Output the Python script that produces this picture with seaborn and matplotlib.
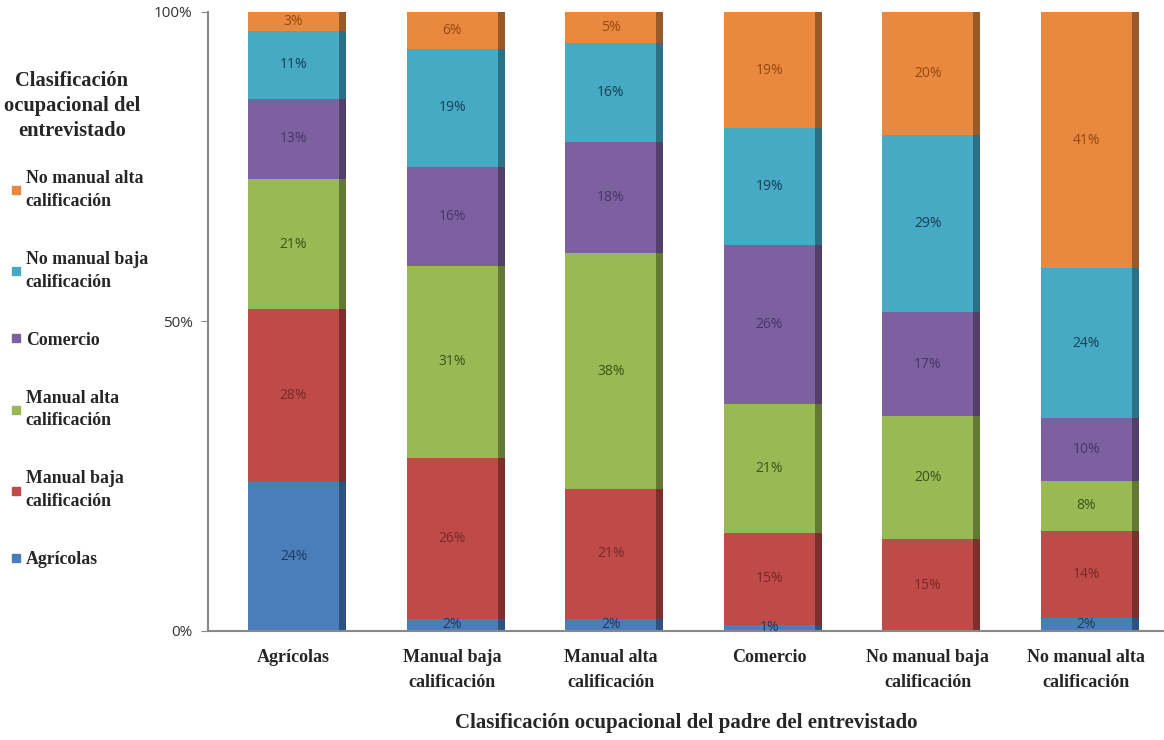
import numpy as np
import pandas as pd
import matplotlib
matplotlib.use("Agg")
import matplotlib.pyplot as plt
from matplotlib.lines import Line2D
import seaborn as sns

# Father's occupation (x categories)
padre = ["Agrícolas", "Manual baja\ncalificación", "Manual alta\ncalificación",
         "Comercio", "No manual baja\ncalificación", "No manual alta\ncalificación"]

# Respondent's occupation (stack series, bottom to top), values in %
series = ["Agrícolas", "Manual baja calificación", "Manual alta calificación",
          "Comercio", "No manual baja calificación", "No manual alta calificación"]
agricolas = [24, 2, 2, 1, 0, 2]
manual_baja = [28, 26, 21, 15, 15, 14]
manual_alta = [21, 31, 38, 21, 20, 8]
comercio = [13, 16, 18, 26, 17, 10]
no_manual_baja = [11, 19, 16, 19, 29, 24]
no_manual_alta = [3, 6, 5, 19, 20, 41]

colors = ["#4a7ebb", "#be4b48", "#98b954", "#7d60a0", "#46aac5", "#e8893f"]
side_colors = ["#2e5280", "#7e2f2d", "#627a33", "#52406a", "#2b7186", "#9a5a28"]
text_colors = ["#1e3a60", "#7a2826", "#3a5518", "#4a3468", "#173f55", "#96470f"]

df = pd.DataFrame([agricolas, manual_baja, manual_alta, comercio, no_manual_baja, no_manual_alta],
                  index=series, columns=padre)
# Excel-style 100% stacking: normalise each column
share = df / df.sum(axis=0) * 100
cum = share.cumsum(axis=0)
base = cum - share

sns.set_style("white")
fig = plt.figure(figsize=(11.64, 7.40), dpi=100)
ax = fig.add_axes([0.1787, 0.1473, 0.8213, 0.8365])

front_w = 0.575
side_w = 0.045
xpos = np.arange(len(padre))

# layered bars: tallest cumulative first
for i in reversed(range(len(series))):
    plot_df = pd.DataFrame({"padre": padre, "cum": cum.iloc[i].values})
    sns.barplot(data=plot_df, x="padre", y="cum", color=colors[i], width=front_w,
                saturation=1, linewidth=0, ax=ax)
    ax.bar(xpos + front_w / 2 + side_w / 2, cum.iloc[i].values, width=side_w,
           color=side_colors[i], linewidth=0)

# segment labels
for i, name in enumerate(series):
    for j in range(len(padre)):
        v = df.iloc[i, j]
        if v <= 0:
            continue
        y = base.iloc[i, j] + share.iloc[i, j] / 2
        ax.text(xpos[j], y, f"{v}%", ha="center", va="center", fontsize=10,
                family="Open Sans", color=text_colors[i])

ax.set_xlim(-0.54, 5.49)
ax.set_ylim(0, 100)
ax.set_yticks([0, 50, 100])
ax.set_yticklabels(["0%", "50%", "100%"], family="Open Sans", fontsize=11, color="#333333")
ax.set_xticks(xpos)
ax.set_xticklabels(padre, family="Liberation Serif", fontweight="bold", fontsize=13,
                   linespacing=1.6)
ax.tick_params(axis="y", length=5, color="#888888", direction="out", left=True, pad=6)
ax.tick_params(axis="x", length=0, pad=13)
ax.set_ylabel("")
ax.set_xlabel("Clasificación ocupacional del padre del entrevistado", family="Liberation Serif",
              fontweight="bold", fontsize=15, labelpad=16)
for s in ["top", "right"]:
    ax.spines[s].set_visible(False)
for s in ["left", "bottom"]:
    ax.spines[s].set_color("#888888")
    ax.spines[s].set_linewidth(1.5)

# legend title and entries on the left
fig.text(72 / 1164, 1 - 106 / 740, "Clasificación\nocupacional del\nentrevistado",
         ha="center", va="center", family="Liberation Serif", fontweight="bold",
         fontsize=14.8, linespacing=1.36)
legend_labels = ["No manual alta\ncalificación", "No manual baja\ncalificación", "Comercio",
                 "Manual alta\ncalificación", "Manual baja\ncalificación", "Agrícolas"]
handles = [Line2D([], [], marker="s", linestyle="", markersize=6, color=c)
           for c in reversed(colors)]
leg = fig.legend(handles, legend_labels, loc="upper left", bbox_to_anchor=(0.0, 0.782),
                 frameon=False,
                 prop={"family": "Liberation Serif", "weight": "bold", "size": 12.8},
                 labelspacing=2.3, handletextpad=0.15, handlelength=0.8, borderaxespad=0.1)
for t in leg.get_texts():
    t.set_linespacing(1.45)

fig.savefig("out.png", dpi=100)
